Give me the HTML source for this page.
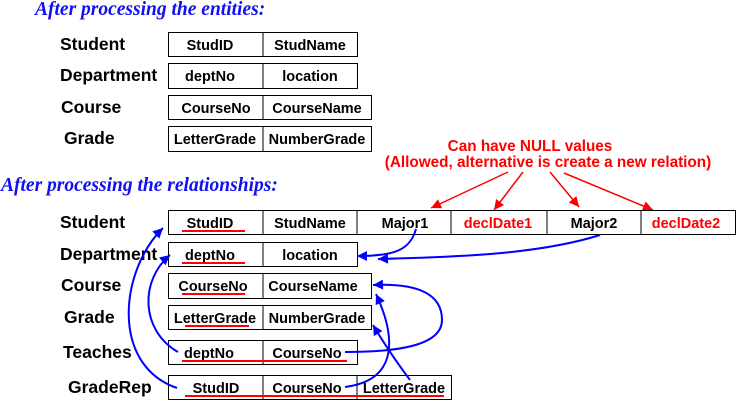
<!DOCTYPE html>
<html><head><meta charset="utf-8"><style>
html,body{margin:0;padding:0;background:#fff;}
svg{display:block;}
.t{font-family:"Liberation Serif",serif;font-style:italic;font-weight:bold;font-size:19.5px;fill:#1010f0;}
.l{font-family:"Liberation Sans",sans-serif;font-weight:bold;font-size:17.5px;fill:#000;}
.f{font-family:"Liberation Sans",sans-serif;font-weight:bold;font-size:14.5px;fill:#000;text-anchor:middle;}
.r{fill:#f00;}
.nt{font-family:"Liberation Sans",sans-serif;font-weight:bold;font-size:15.3px;fill:#f00;text-anchor:middle;}
rect{fill:none;stroke:#000;stroke-width:1;}
.u{stroke:#f00;stroke-width:2;}
.b{stroke:#0000ff;stroke-width:2;fill:none;}
.rd{stroke:#f00;stroke-width:1.5;fill:none;}
</style></head><body>
<svg width="736" height="401" viewBox="0 0 736 401" xmlns="http://www.w3.org/2000/svg">
<defs>
<marker id="ar" viewBox="0 0 10 10" refX="10" refY="5" markerWidth="12" markerHeight="10" orient="auto" markerUnits="userSpaceOnUse"><path d="M0,0 L10,5 L0,10z" fill="#f00"/></marker>
<marker id="ab2" viewBox="0 0 10 10" refX="10" refY="5" markerWidth="14" markerHeight="10" orient="auto" markerUnits="userSpaceOnUse"><path d="M0,0 L10,5 L0,10z" fill="#0000ff"/></marker>
</defs>
<text class="t" x="35" y="15">After processing the entities:</text>
<text class="t" x="1" y="191">After processing the relationships:</text>

<text class="l" x="60" y="50">Student</text>
<rect x="168.5" y="32.5" width="189" height="24"/><line x1="263" y1="32" x2="263" y2="57" stroke="#000"/>
<text class="f" x="210" y="50">StudID</text><text class="f" x="310" y="50">StudName</text>
<text class="l" x="60" y="81">Department</text>
<rect x="168.5" y="63.5" width="189" height="25"/><line x1="263" y1="63" x2="263" y2="89" stroke="#000"/>
<text class="f" x="210" y="81">deptNo</text><text class="f" x="310" y="81">location</text>
<text class="l" x="61" y="113">Course</text>
<rect x="168.5" y="95.5" width="203" height="24"/><line x1="263" y1="95" x2="263" y2="120" stroke="#000"/>
<text class="f" x="216" y="113">CourseNo</text><text class="f" x="317" y="113">CourseName</text>
<text class="l" x="64" y="144">Grade</text>
<rect x="168.5" y="126.5" width="203" height="25"/><line x1="263" y1="126" x2="263" y2="152" stroke="#000"/>
<text class="f" x="215" y="144">LetterGrade</text><text class="f" x="317" y="144">NumberGrade</text>

<text class="nt" x="530" y="151">Can have NULL values</text>
<text class="nt" x="548" y="167">(Allowed, alternative is create a new relation)</text>
<path class="rd" d="M508,172 L431,208" marker-end="url(#ar)"/>
<path class="rd" d="M523,172 L494,210" marker-end="url(#ar)"/>
<path class="rd" d="M550,172 L579,207" marker-end="url(#ar)"/>
<path class="rd" d="M564,173 L653,210" marker-end="url(#ar)"/>

<text class="l" x="60" y="228">Student</text>
<rect x="168.5" y="210.5" width="567" height="24"/>
<line x1="263" y1="210" x2="263" y2="235" stroke="#000"/>
<line x1="357" y1="210" x2="357" y2="235" stroke="#000"/>
<line x1="451" y1="210" x2="451" y2="235" stroke="#000"/>
<line x1="547" y1="210" x2="547" y2="235" stroke="#000"/>
<line x1="641" y1="210" x2="641" y2="235" stroke="#000"/>
<text class="f" x="210" y="228">StudID</text><text class="f" x="310" y="228">StudName</text>
<text class="f" x="405" y="228">Major1</text><text class="f r" x="498" y="228">declDate1</text>
<text class="f" x="594" y="228">Major2</text><text class="f r" x="686" y="228">declDate2</text>
<line class="u" x1="182" y1="231" x2="245" y2="231"/>

<text class="l" x="60" y="260">Department</text>
<rect x="168.5" y="242.5" width="189" height="24"/><line x1="263" y1="242" x2="263" y2="267" stroke="#000"/>
<text class="f" x="210" y="260">deptNo</text><text class="f" x="310" y="260">location</text>
<line class="u" x1="182" y1="263" x2="245" y2="263"/>

<text class="l" x="61" y="291">Course</text>
<rect x="168.5" y="273.5" width="203" height="25"/><line x1="263" y1="273" x2="263" y2="299" stroke="#000"/>
<text class="f" x="213" y="291">CourseNo</text><text class="f" x="313" y="291">CourseName</text>
<line class="u" x1="182" y1="294" x2="245" y2="294"/>

<text class="l" x="64" y="323">Grade</text>
<rect x="168.5" y="305.5" width="203" height="24"/><line x1="263" y1="305" x2="263" y2="330" stroke="#000"/>
<text class="f" x="215" y="323">LetterGrade</text><text class="f" x="317" y="323">NumberGrade</text>
<line class="u" x1="185" y1="326" x2="249" y2="326"/>

<text class="l" x="63" y="358">Teaches</text>
<rect x="168.5" y="340.5" width="189" height="24"/><line x1="263" y1="340" x2="263" y2="365" stroke="#000"/>
<text class="f" x="209" y="358">deptNo</text><text class="f" x="307" y="358">CourseNo</text>
<line class="u" x1="182" y1="361" x2="347" y2="361"/>

<text class="l" x="68" y="393">GradeRep</text>
<rect x="168.5" y="375.5" width="283" height="24"/>
<line x1="263" y1="375" x2="263" y2="400" stroke="#000"/>
<line x1="357" y1="375" x2="357" y2="400" stroke="#000"/>
<text class="f" x="216" y="393">StudID</text><text class="f" x="307" y="393">CourseNo</text><text class="f" x="404" y="393">LetterGrade</text>
<line class="u" x1="185" y1="396" x2="444" y2="396"/>

<path class="b" d="M416,229 C410,250 395,256 357,256" marker-end="url(#ab2)"/>
<path class="b" d="M600,235 C540,254 460,257 378,259" marker-end="url(#ab2)"/>
<path class="b" d="M177,388 C110,365 120,270 163,228" marker-end="url(#ab2)"/>
<path class="b" d="M178,352 C140,330 140,280 170,255" marker-end="url(#ab2)"/>
<path class="b" d="M345,352 C400,352 442,345 442,320 C442,295 420,283 373,285" marker-end="url(#ab2)"/>
<path class="b" d="M345,387 C400,380 395,335 376,294" marker-end="url(#ab2)"/>
<path class="b" d="M410,380 C395,360 385,345 373,325" marker-end="url(#ab2)"/>
</svg>
</body></html>
